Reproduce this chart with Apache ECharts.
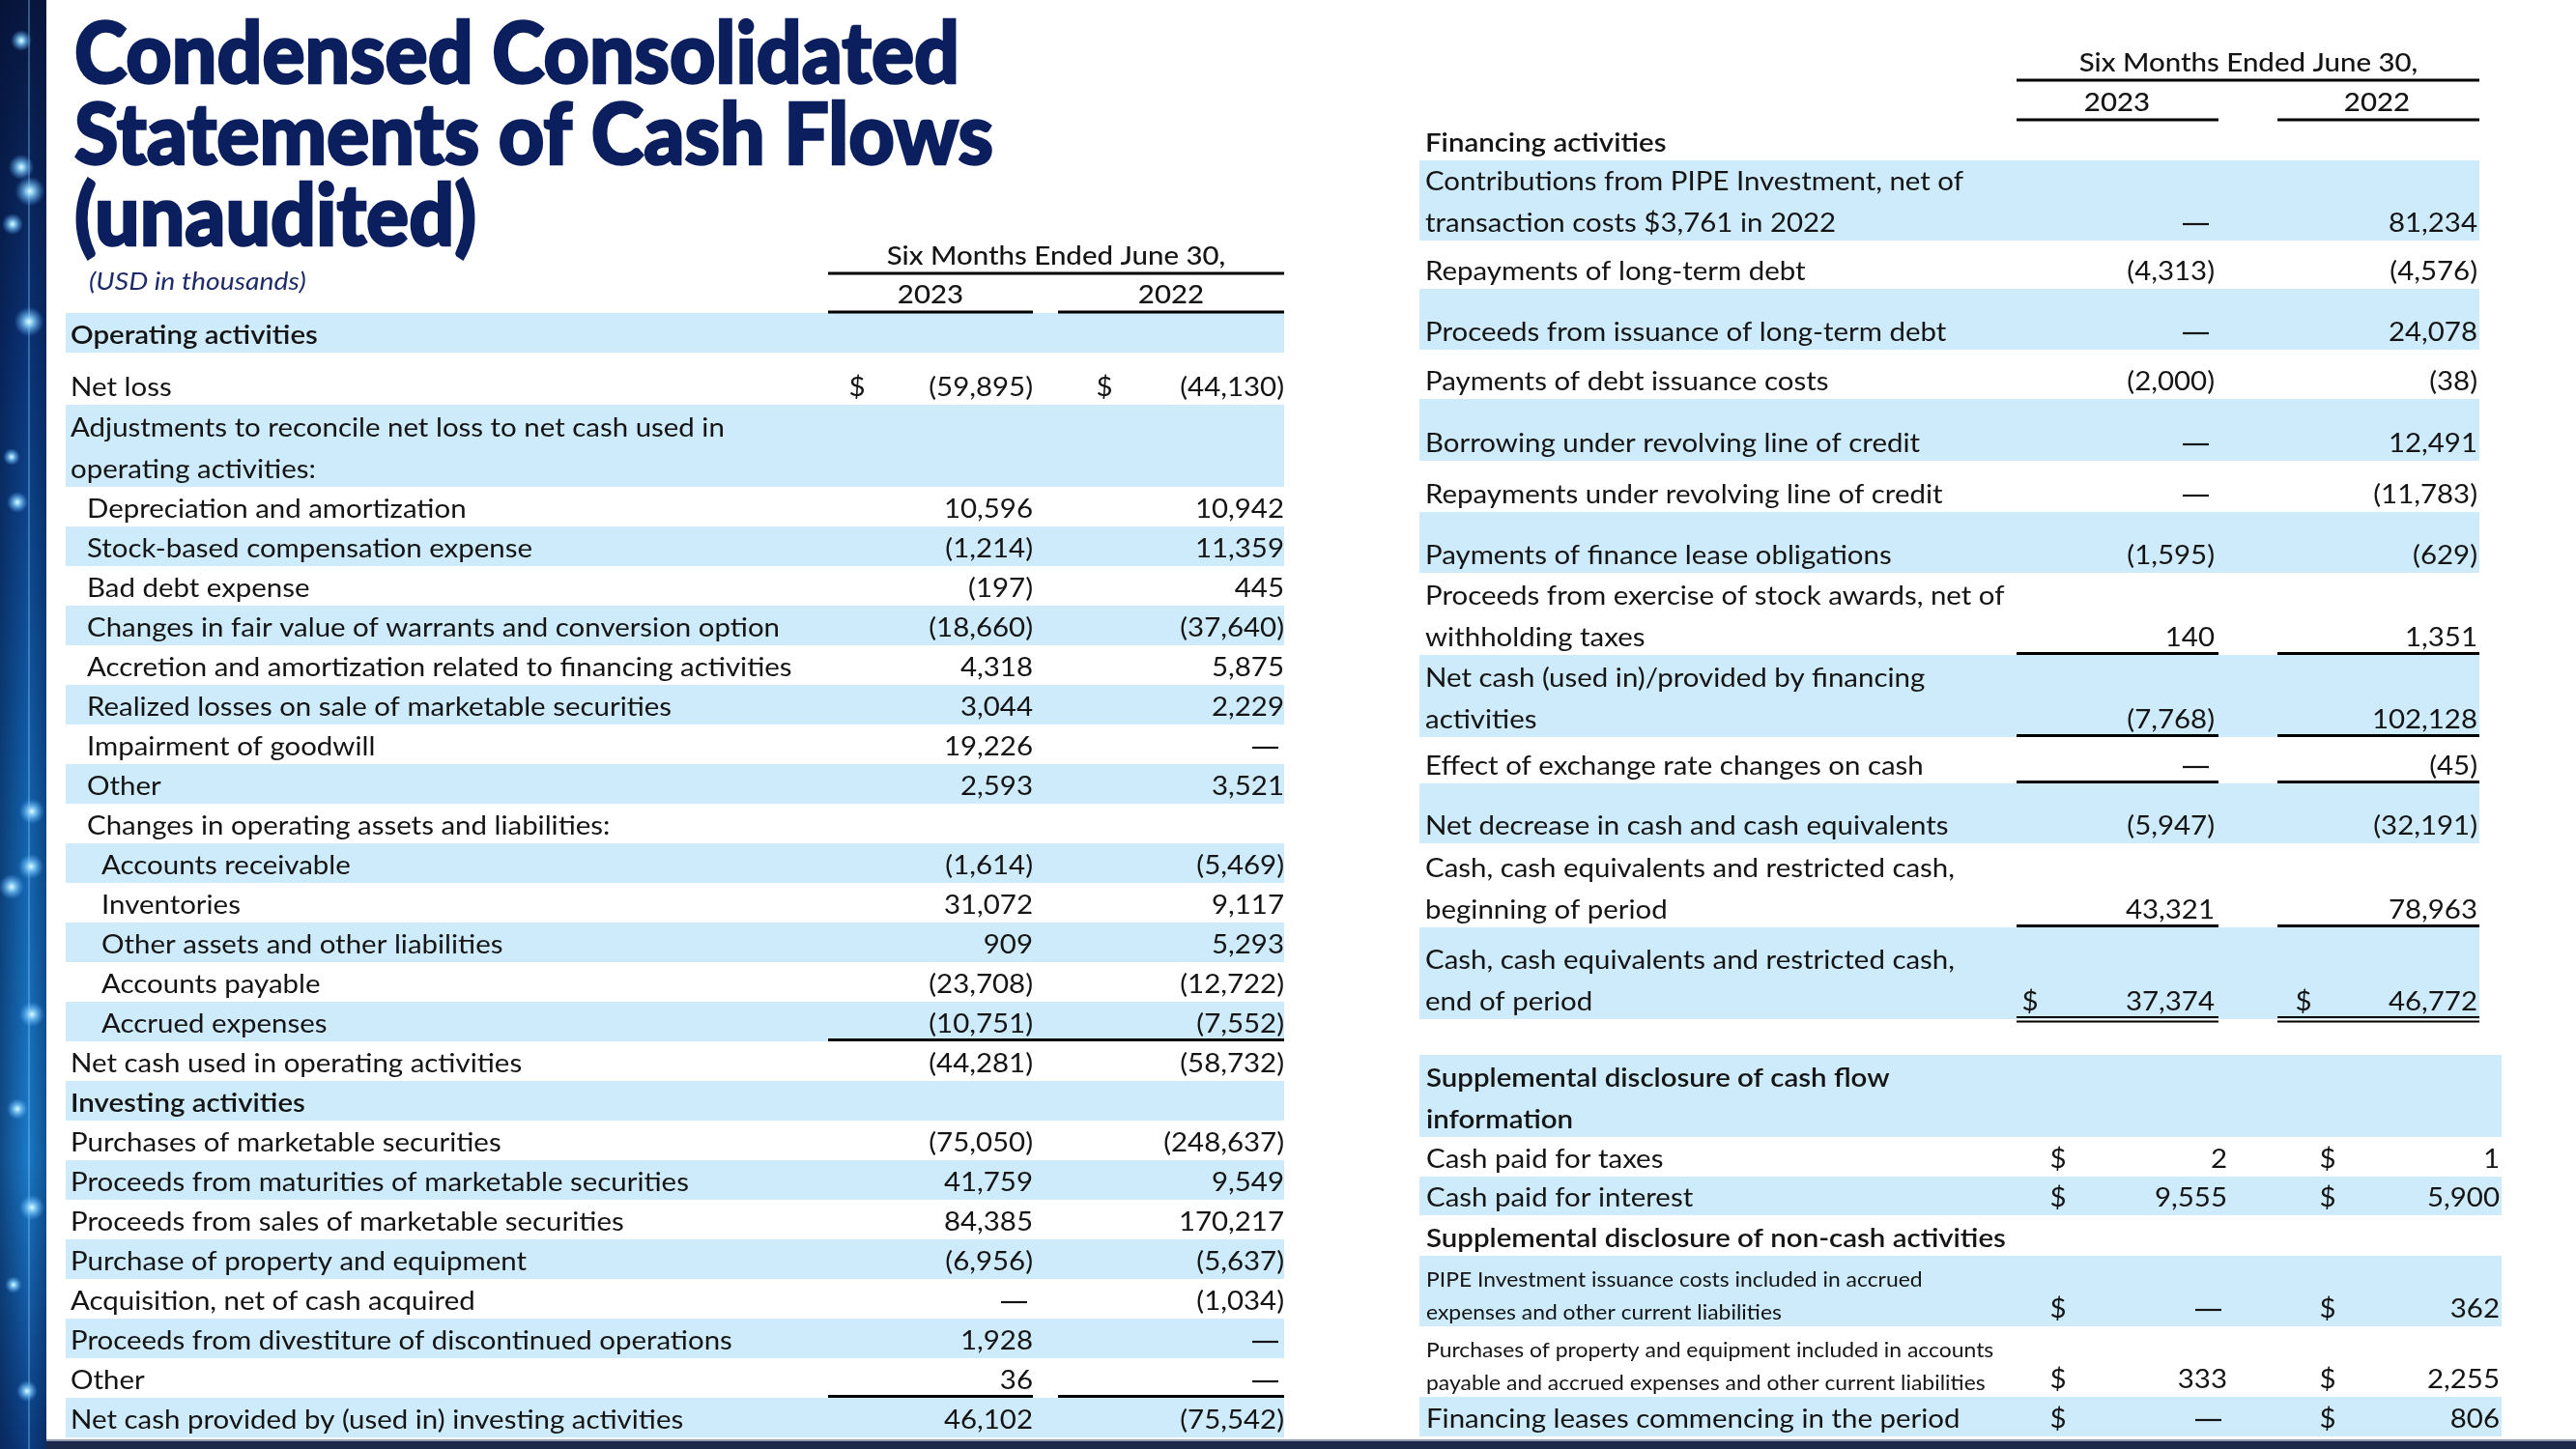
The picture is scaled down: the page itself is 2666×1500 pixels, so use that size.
<!DOCTYPE html>
<html><head><meta charset="utf-8">
<script src="https://cdn.jsdelivr.net/npm/echarts@6/dist/echarts.min.js"></script>
<style>html,body{margin:0;padding:0;background:#fff}#c{width:2666px;height:1500px}</style>
</head><body><div id="c"></div>
<script>
// ================= DATA =================
const titleLines = ['Condensed Consolidated', 'Statements of Cash Flows', '(unaudited)'];
const unitNote = '(USD in thousands)';
const periodHeader = 'Six Months Ended June 30,';
const years = ['2023', '2022'];

const leftLabels = [
  ['Operating activities'],
  ['Net loss'],
  ['Adjustments to reconcile net loss to net cash used in', 'operating activities:'],
  ['Depreciation and amortization'],
  ['Stock-based compensation expense'],
  ['Bad debt expense'],
  ['Changes in fair value of warrants and conversion option'],
  ['Accretion and amortization related to financing activities'],
  ['Realized losses on sale of marketable securities'],
  ['Impairment of goodwill'],
  ['Other'],
  ['Changes in operating assets and liabilities:'],
  ['Accounts receivable'],
  ['Inventories'],
  ['Other assets and other liabilities'],
  ['Accounts payable'],
  ['Accrued expenses'],
  ['Net cash used in operating activities'],
  ['Investing activities'],
  ['Purchases of marketable securities'],
  ['Proceeds from maturities of marketable securities'],
  ['Proceeds from sales of marketable securities'],
  ['Purchase of property and equipment'],
  ['Acquisition, net of cash acquired'],
  ['Proceeds from divestiture of discontinued operations'],
  ['Other'],
  ['Net cash provided by (used in) investing activities']
];
// null = blank cell, 0 = "—"
const left2023 = [null, -59895, null, 10596, -1214, -197, -18660, 4318, 3044, 19226, 2593, null,
  -1614, 31072, 909, -23708, -10751, -44281, null, -75050, 41759, 84385, -6956, 0, 1928, 36, 46102];
const left2022 = [null, -44130, null, 10942, 11359, 445, -37640, 5875, 2229, 0, 3521, null,
  -5469, 9117, 5293, -12722, -7552, -58732, null, -248637, 9549, 170217, -5637, -1034, 0, 0, -75542];

const rightLabels = [
  ['Financing activities'],
  ['Contributions from PIPE Investment, net of', 'transaction costs $3,761 in 2022'],
  ['Repayments of long-term debt'],
  ['Proceeds from issuance of long-term debt'],
  ['Payments of debt issuance costs'],
  ['Borrowing under revolving line of credit'],
  ['Repayments under revolving line of credit'],
  ['Payments of finance lease obligations'],
  ['Proceeds from exercise of stock awards, net of', 'withholding taxes'],
  ['Net cash (used in)/provided by financing', 'activities'],
  ['Effect of exchange rate changes on cash'],
  ['Net decrease in cash and cash equivalents'],
  ['Cash, cash equivalents and restricted cash,', 'beginning of period'],
  ['Cash, cash equivalents and restricted cash,', 'end of period']
];
const right2023 = [null, 0, -4313, 0, -2000, 0, 0, -1595, 140, -7768, 0, -5947, 43321, 37374];
const right2022 = [null, 81234, -4576, 24078, -38, 12491, -11783, -629, 1351, 102128, -45, -32191, 78963, 46772];

const supLabels = [
  ['Supplemental disclosure of cash flow', 'information'],
  ['Cash paid for taxes'],
  ['Cash paid for interest'],
  ['Supplemental disclosure of non-cash activities'],
  ['PIPE Investment issuance costs included in accrued', 'expenses and other current liabilities'],
  ['Purchases of property and equipment included in accounts', 'payable and accrued expenses and other current liabilities'],
  ['Financing leases commencing in the period']
];
const sup2023 = [null, 2, 9555, null, 0, 333, 0];
const sup2022 = [null, 1, 5900, null, 362, 2255, 806];

// ================= LAYOUT / STYLE =================
const leftRowH = [41, 54, 85, 41, 41, 41, 41, 41, 41, 41, 41, 41, 41, 41, 41, 41, 41, 41, 41, 41, 41, 41, 41, 41, 41, 41, 41];
const leftIndent = [0, 0, 0, 1, 1, 1, 1, 1, 1, 1, 1, 1, 2, 2, 2, 2, 2, 0, 0, 0, 0, 0, 0, 0, 0, 0, 0];
const leftBold = [0, 18];
const leftDollar = [1];
const leftRules = {16: 'full', 25: 'split'};

const rightRowH = [42, 83, 50, 63, 51, 64, 53, 63, 85, 85, 48, 62, 87, 95];
const rightBold = [0];
const rightDollar = [13];
const rightRules = {8: 'split', 9: 'split', 10: 'split', 12: 'split', 13: 'double'};

const supRowH = [85, 41, 40, 42, 73, 73, 41];
const supBold = [0, 3];
const supSmall = [4, 5];
const supDollar = [1, 2, 4, 5, 6];

const FONT = 'Lato';
const SX = 1.09;            // horizontal stretch to approximate the wider original face
const BAND = '#cdebfb';
const INK = '#141414';
const NAVY = '#0b1f5e';

function fmt(v) {
  if (v === null || v === undefined) return '';
  const s = Math.abs(v).toLocaleString('en-US');
  return v < 0 ? '(' + s + ')' : s;
}

function rowsData(h) {
  let acc = 0;
  return h.map((hh, i) => { const r = [0, acc, acc + hh, i]; acc += hh; return r; });
}
function sum(a) { return a.reduce((s, x) => s + x, 0); }

const tables = [
  { grid: {left: 68, top: 324, width: 1261, height: sum(leftRowH)},
    labels: leftLabels, v23: left2023, v22: left2022, h: leftRowH,
    shade: i => i % 2 === 0, bandW: 1261,
    labelX: i => [5, 22, 37][leftIndent[i]],
    bold: leftBold, dollar: leftDollar, small: [], rules: leftRules,
    d23: 819, r23: 1001, d22: 1075, r22: 1261, seg23: [789, 1001], seg22: [1027, 1261] },
  { grid: {left: 1469, top: 124, width: 1097, height: sum(rightRowH)},
    labels: rightLabels, v23: right2023, v22: right2022, h: rightRowH,
    shade: i => i % 2 === 1, bandW: 1097,
    labelX: i => 6,
    bold: rightBold, dollar: rightDollar, small: [], rules: rightRules,
    d23: 632, r23: 823, d22: 915, r22: 1095, seg23: [618, 827], seg22: [888, 1097] },
  { grid: {left: 1469, top: 1092, width: 1120, height: sum(supRowH)},
    labels: supLabels, v23: sup2023, v22: sup2022, h: supRowH,
    shade: i => i % 2 === 0, bandW: 1120,
    labelX: i => 7,
    bold: supBold, dollar: supDollar, small: supSmall, rules: {},
    d23: 661, r23: 836, d22: 940, r22: 1118, seg23: [0, 0], seg22: [0, 0] }
];

function txt(text, x, y, o) {
  return {type: 'text', x: x, y: y, scaleX: SX,
    style: Object.assign({text: text, x: 0, y: 0, fontFamily: FONT, fontSize: 27, fontWeight: 400,
      fill: INK, align: 'left', verticalAlign: 'middle'}, o || {})};
}

function makeRender(t) {
  return function (params, api) {
    const i = api.value(3);
    const y0 = api.coord([0, api.value(1)])[1];
    const y1 = api.coord([0, api.value(2)])[1];
    const X = off => api.coord([off, 0])[0];
    const ch = [];
    if (t.shade(i)) {
      ch.push({type: 'rect', shape: {x: X(0), y: y0, width: X(t.bandW) - X(0), height: y1 - y0}, style: {fill: BAND}});
    }
    const small = t.small.indexOf(i) >= 0;
    const bold = t.bold.indexOf(i) >= 0;
    const fs = small ? 21 : 27;
    const lh = small ? 34 : 43;
    const lastY = y1 - (small ? 13.5 : 18);
    const lines = t.labels[i];
    lines.forEach((s, k) => {
      ch.push(txt(s, X(t.labelX(i)), lastY - (lines.length - 1 - k) * lh,
        {fontSize: fs, fontWeight: bold ? 600 : 400}));
    });
    const vy = y1 - 18;
    const hasDollar = t.dollar.indexOf(i) >= 0;
    [[t.v23[i], t.d23, t.r23], [t.v22[i], t.d22, t.r22]].forEach(([v, dx, rx]) => {
      if (v === null) return;
      if (hasDollar) ch.push(txt('$', X(dx), vy, {align: 'center'}));
      if (v === 0) {
        ch.push({type: 'line', shape: {x1: X(rx - 33), y1: vy + 1, x2: X(rx - 6), y2: vy + 1},
          style: {stroke: INK, lineWidth: 2.2}});
      } else {
        ch.push(txt(fmt(v), X(rx), vy, {align: 'right'}));
      }
    });
    const rule = t.rules[i];
    if (rule === 'full') {
      ch.push({type: 'line', shape: {x1: X(t.seg23[0]), y1: y1 - 1.5, x2: X(t.seg22[1]), y2: y1 - 1.5},
        style: {stroke: '#000', lineWidth: 3}});
    } else if (rule === 'split' || rule === 'double') {
      [t.seg23, t.seg22].forEach(s => {
        if (rule === 'split') {
          ch.push({type: 'line', shape: {x1: X(s[0]), y1: y1 - 1.5, x2: X(s[1]), y2: y1 - 1.5},
            style: {stroke: '#000', lineWidth: 3}});
        } else {
          ch.push({type: 'line', shape: {x1: X(s[0]), y1: y1 - 2, x2: X(s[1]), y2: y1 - 2},
            style: {stroke: '#000', lineWidth: 2}});
          ch.push({type: 'line', shape: {x1: X(s[0]), y1: y1 + 2.5, x2: X(s[1]), y2: y1 + 2.5},
            style: {stroke: '#000', lineWidth: 2}});
        }
      });
    }
    return {type: 'group', children: ch};
  };
}

// ================= DECORATION (graphic) =================
const measureCtx = document.createElement('canvas').getContext('2d');
function textW(s, font) { measureCtx.font = font; return measureCtx.measureText(s).width; }

const titleFont = '900 88px Lato';
const titleTargets = [916, 951, 416];
const graphics = [];

// left stripe
graphics.push({type: 'rect', shape: {x: 0, y: 0, width: 48, height: 1500},
  style: {fill: new echarts.graphic.LinearGradient(0, 0, 0, 1, [
    {offset: 0, color: '#08173f'}, {offset: 0.25, color: '#0b3479'},
    {offset: 0.55, color: '#1262ad'}, {offset: 0.8, color: '#1a7ac8'}, {offset: 1, color: '#0c3c82'}])}, z: 1});
graphics.push({type: 'rect', shape: {x: 0, y: 0, width: 48, height: 1500},
  style: {fill: new echarts.graphic.LinearGradient(0, 0, 1, 0, [
    {offset: 0, color: 'rgba(4,16,50,0.45)'}, {offset: 0.6, color: 'rgba(4,16,50,0)'}, {offset: 1, color: 'rgba(4,16,50,0.35)'}])}, z: 1});
graphics.push({type: 'rect', shape: {x: 29, y: 0, width: 2, height: 1500}, style: {fill: 'rgba(140,205,255,0.35)'}, z: 1});
[[22, 42, 5], [22, 173, 6], [31, 198, 7], [13, 232, 5], [30, 333, 7], [12, 473, 4], [18, 520, 5],
 [33, 840, 6], [32, 897, 6], [12, 918, 6], [33, 1050, 6], [18, 1148, 5], [33, 1250, 6], [14, 1330, 4], [28, 1440, 5]]
  .forEach(([cx, cy, r]) => {
    graphics.push({type: 'circle', shape: {cx, cy, r: r * 2.2}, z: 2,
      style: {fill: new echarts.graphic.RadialGradient(0.5, 0.5, 0.5, [
        {offset: 0, color: 'rgba(235,250,255,1)'}, {offset: 0.25, color: 'rgba(150,220,255,0.9)'},
        {offset: 1, color: 'rgba(80,170,255,0)'}])}});
  });
// bottom rule
graphics.push({type: 'rect', shape: {x: 48, y: 1490, width: 2618, height: 2}, style: {fill: '#8f9bb3'}, z: 1});
graphics.push({type: 'rect', shape: {x: 48, y: 1492, width: 2618, height: 8}, style: {fill: '#1b2849'}, z: 1});

// title (heavy, slightly stroked to mimic the original black weight)
titleLines.forEach((t, k) => {
  const s = titleTargets[k] / textW(t, titleFont);
  graphics.push({type: 'text', x: 77, y: 58 + k * 84, scaleX: s, z: 5,
    style: {text: t, x: 0, y: 0, font: titleFont, fill: NAVY, stroke: NAVY, lineWidth: 2.5,
      align: 'left', verticalAlign: 'middle'}});
});
graphics.push({type: 'text', z: 5, x: 92, y: 292, scaleX: SX, style: {text: unitNote, x: 0, y: 0,
  fontFamily: FONT, fontStyle: 'italic', fontSize: 26, fill: '#1e2b6b', align: 'left', verticalAlign: 'middle'}});

// column headers
function header(cx, y, lineL, lineR, yc, c23, c22, yYear, seg23, seg22) {
  const st = {x: 0, y: 0, fontFamily: FONT, fontSize: 27, fontWeight: 500, fill: INK, align: 'center', verticalAlign: 'middle'};
  graphics.push({type: 'text', z: 5, x: cx, y: y, scaleX: SX, style: Object.assign({text: periodHeader}, st)});
  graphics.push({type: 'line', z: 5, shape: {x1: lineL, y1: yc, x2: lineR, y2: yc}, style: {stroke: '#000', lineWidth: 3}});
  graphics.push({type: 'text', z: 5, x: c23, y: yYear, scaleX: SX, style: Object.assign({text: years[0]}, st)});
  graphics.push({type: 'text', z: 5, x: c22, y: yYear, scaleX: SX, style: Object.assign({text: years[1]}, st)});
  [seg23, seg22].forEach(s => graphics.push({type: 'line', z: 5,
    shape: {x1: s[0], y1: yYear + 18, x2: s[1], y2: yYear + 18}, style: {stroke: '#000', lineWidth: 3}}));
}
header(1093, 265, 857, 1329, 283, 963, 1212, 305, [857, 1069], [1095, 1329]);
header(2327, 65, 2087, 2566, 83, 2191, 2460, 106, [2087, 2296], [2357, 2566]);

// ================= CHART =================
const chart = echarts.init(document.getElementById('c'), null, {renderer: 'canvas'});
chart.setOption({
  animation: false,
  backgroundColor: '#ffffff',
  grid: tables.map(t => Object.assign({containLabel: false}, t.grid)),
  xAxis: tables.map((t, g) => ({type: 'value', gridIndex: g, min: 0, max: t.grid.width, show: false})),
  yAxis: tables.map((t, g) => ({type: 'value', gridIndex: g, min: 0, max: t.grid.height, inverse: true, show: false})),
  graphic: graphics,
  series: tables.map((t, g) => ({
    type: 'custom', xAxisIndex: g, yAxisIndex: g, silent: true, clip: false,
    dimensions: ['x', 'top', 'bottom', 'row'],
    encode: {x: 0, y: [1, 2]},
    data: rowsData(t.h),
    renderItem: makeRender(t)
  }))
});
</script>
</body></html>
